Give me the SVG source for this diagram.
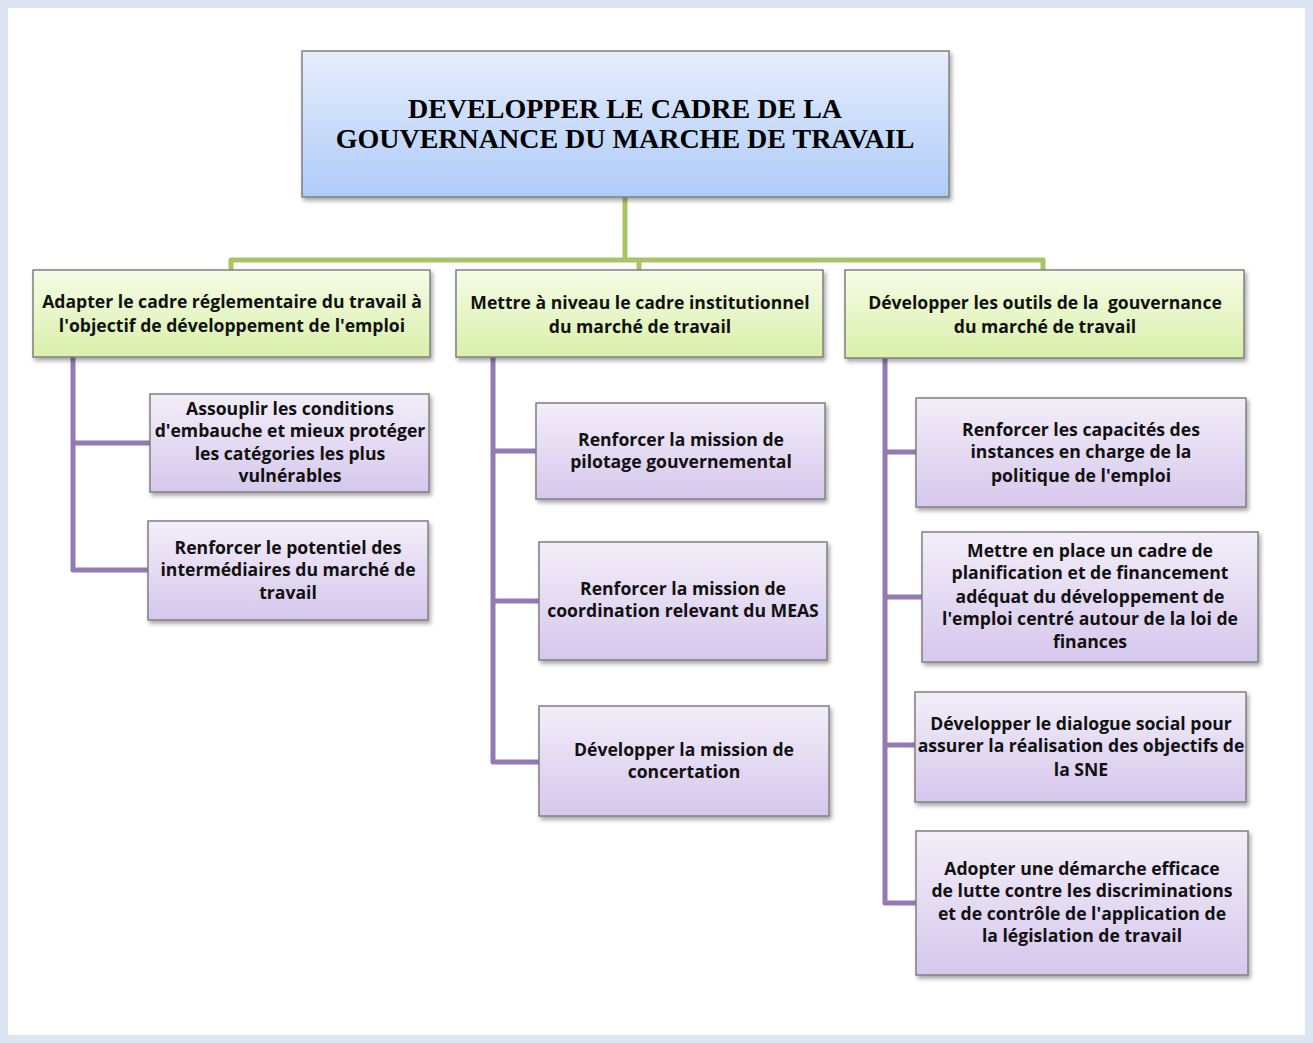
<svg xmlns="http://www.w3.org/2000/svg" width="1313" height="1043" viewBox="0 0 1313 1043">
  <defs>
    <linearGradient id="gBlue" x1="0" y1="0" x2="0" y2="1">
      <stop offset="0" stop-color="#e7eefc"/>
      <stop offset="1" stop-color="#aecbf8"/>
    </linearGradient>
    <linearGradient id="gGreen" x1="0" y1="0" x2="0" y2="1">
      <stop offset="0" stop-color="#f6fce6"/>
      <stop offset="1" stop-color="#d9f0aa"/>
    </linearGradient>
    <linearGradient id="gPurple" x1="0" y1="0" x2="0" y2="1">
      <stop offset="0" stop-color="#f3eef9"/>
      <stop offset="1" stop-color="#d6c7ec"/>
    </linearGradient>
    <filter id="shadow" x="-5%" y="-5%" width="112%" height="120%">
      <feDropShadow dx="2" dy="3" stdDeviation="2" flood-color="#000" flood-opacity="0.35"/>
    </filter>
  </defs>
  <style>
    .box { stroke: #808080; stroke-width: 1.5; filter: url(#shadow); }
    .top { fill: url(#gBlue); }
    .lvl1 { fill: url(#gGreen); }
    .lvl2 { fill: url(#gPurple); }
    .title { font-family: "Liberation Serif", "Times New Roman", serif; font-weight: bold; font-size: 28px; fill: #000; text-anchor: middle; }
    .lbl { font-family: "Open Sans", "Liberation Sans", sans-serif; font-weight: bold; font-size: 17.6px; fill: #111; text-anchor: middle; }
    .green { fill: none; stroke: #a8c466; stroke-width: 5; stroke-linejoin: round; }
    .purple { fill: none; stroke: #9479b3; stroke-width: 5; stroke-linejoin: round; }
  </style>

  <!-- page frame -->
  <rect x="0" y="0" width="1313" height="1043" fill="#dce6f2"/>
  <rect x="8" y="8" width="1297" height="1027" fill="#ffffff"/>

  <!-- connectors -->
  <g id="connectors">
    <path class="green" d="M625 197 V258"/>
    <path class="green" d="M231 271 V260 H1043 V271"/>
    <path class="green" d="M639 258 V271"/>
    <path class="purple" d="M73 357 V570 H150 M73 443 H151"/>
    <path class="purple" d="M493 357 V762 H540 M493 451 H537 M493 601 H540"/>
    <path class="purple" d="M885 358 V903 H917 M885 452 H917 M885 597 H923 M885 745 H916"/>
  </g>

  <!-- root -->
  <g id="root">
    <rect class="box top" x="302" y="51" width="647" height="146"/>
    <text class="title" x="625" y="118">DEVELOPPER LE CADRE DE LA</text>
    <text class="title" x="625" y="148">GOUVERNANCE DU MARCHE DE TRAVAIL</text>
  </g>

  <!-- level 1 -->
  <g id="axis-1">
    <rect class="box lvl1" x="33" y="270" width="397" height="87"/>
    <text class="lbl" x="232" y="308">Adapter le cadre réglementaire du travail à</text>
    <text class="lbl" x="232" y="332">l'objectif de développement de l'emploi</text>
  </g>
  <g id="axis-2">
    <rect class="box lvl1" x="456" y="270" width="367" height="87"/>
    <text class="lbl" x="640" y="309">Mettre à niveau le cadre institutionnel</text>
    <text class="lbl" x="640" y="333">du marché de travail</text>
  </g>
  <g id="axis-3">
    <rect class="box lvl1" x="845" y="270" width="399" height="88"/>
    <text class="lbl" x="1045" y="309" xml:space="preserve">Développer les outils de la  gouvernance</text>
    <text class="lbl" x="1045" y="333">du marché de travail</text>
  </g>

  <!-- level 2, axis 1 -->
  <g id="a1-1">
    <rect class="box lvl2" x="150" y="394" width="279" height="98"/>
    <text class="lbl" x="290" y="415">Assouplir les conditions</text>
    <text class="lbl" x="290" y="437">d'embauche et mieux protéger</text>
    <text class="lbl" x="290" y="460">les catégories les plus</text>
    <text class="lbl" x="290" y="482">vulnérables</text>
  </g>
  <g id="a1-2">
    <rect class="box lvl2" x="148" y="521" width="280" height="99"/>
    <text class="lbl" x="288" y="554">Renforcer le potentiel des</text>
    <text class="lbl" x="288" y="576">intermédiaires du marché de</text>
    <text class="lbl" x="288" y="599">travail</text>
  </g>

  <!-- level 2, axis 2 -->
  <g id="a2-1">
    <rect class="box lvl2" x="536" y="403" width="289" height="96"/>
    <text class="lbl" x="681" y="446">Renforcer la mission de</text>
    <text class="lbl" x="681" y="468">pilotage gouvernemental</text>
  </g>
  <g id="a2-2">
    <rect class="box lvl2" x="539" y="542" width="288" height="118"/>
    <text class="lbl" x="683" y="595">Renforcer la mission de</text>
    <text class="lbl" x="683" y="617">coordination relevant du MEAS</text>
  </g>
  <g id="a2-3">
    <rect class="box lvl2" x="539" y="706" width="290" height="110"/>
    <text class="lbl" x="684" y="756">Développer la mission de</text>
    <text class="lbl" x="684" y="778">concertation</text>
  </g>

  <!-- level 2, axis 3 -->
  <g id="a3-1">
    <rect class="box lvl2" x="916" y="398" width="330" height="109"/>
    <text class="lbl" x="1081" y="436">Renforcer les capacités des</text>
    <text class="lbl" x="1081" y="458">instances en charge de la</text>
    <text class="lbl" x="1081" y="482">politique de l'emploi</text>
  </g>
  <g id="a3-2">
    <rect class="box lvl2" x="922" y="532" width="336" height="130"/>
    <text class="lbl" x="1090" y="557">Mettre en place un cadre de</text>
    <text class="lbl" x="1090" y="579">planification et de financement</text>
    <text class="lbl" x="1090" y="603">adéquat du développement de</text>
    <text class="lbl" x="1090" y="625">l'emploi centré autour de la loi de</text>
    <text class="lbl" x="1090" y="648">finances</text>
  </g>
  <g id="a3-3">
    <rect class="box lvl2" x="915" y="692" width="331" height="110"/>
    <text class="lbl" x="1081" y="730">Développer le dialogue social pour</text>
    <text class="lbl" x="1081" y="752">assurer la réalisation des objectifs de</text>
    <text class="lbl" x="1081" y="776">la SNE</text>
  </g>
  <g id="a3-4">
    <rect class="box lvl2" x="916" y="831" width="332" height="144"/>
    <text class="lbl" x="1082" y="875">Adopter une démarche efficace</text>
    <text class="lbl" x="1082" y="897">de lutte contre les discriminations</text>
    <text class="lbl" x="1082" y="920">et de contrôle de l'application de</text>
    <text class="lbl" x="1082" y="942">la législation de travail</text>
  </g>
</svg>
